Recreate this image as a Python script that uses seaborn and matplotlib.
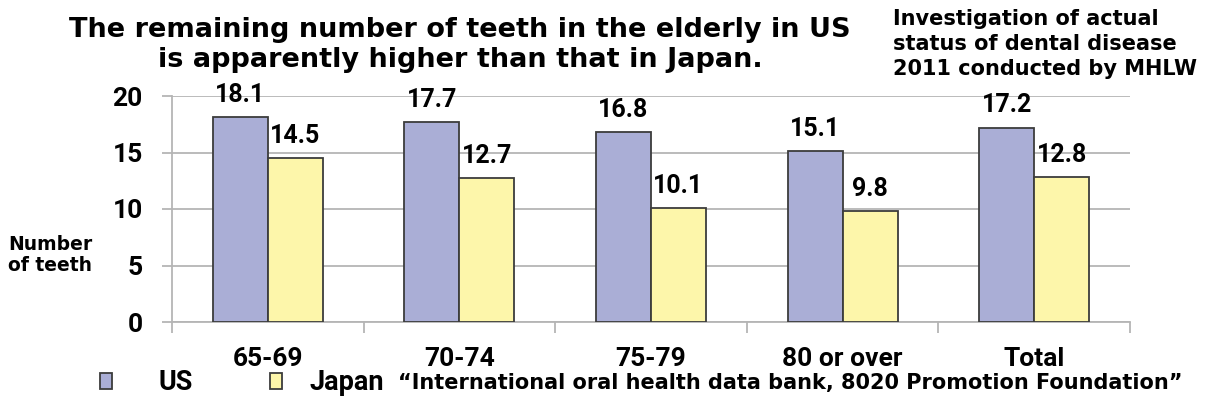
import matplotlib
matplotlib.use("Agg")
import matplotlib.pyplot as plt
import seaborn as sns
import pandas as pd
from matplotlib.ticker import FixedLocator, NullFormatter

categories = ["65-69", "70-74", "75-79", "80 or over", "Total"]
us_values = [18.1, 17.7, 16.8, 15.1, 17.2]
japan_values = [14.5, 12.7, 10.1, 9.8, 12.8]
series_names = ["US", "Japan"]
y_ticks = [0, 5, 10, 15, 20]

title_text = "The remaining number of teeth in the elderly in US\nis apparently higher than that in Japan."
note_text = "Investigation of actual\nstatus of dental disease\n2011 conducted by MHLW"
ylabel_text = "Number\nof teeth"
source_text = "\u201cInternational oral health data bank, 8020 Promotion Foundation\u201d"

colors = {"US": "#aaaed6", "Japan": "#fdf6aa"}

df = pd.DataFrame({
    "category": categories * 2,
    "value": us_values + japan_values,
    "country": [series_names[0]] * len(categories) + [series_names[1]] * len(categories),
})

sns.set_theme(style="white")
plt.rcParams["font.family"] = ["DejaVu Sans"]
plt.rcParams["text.color"] = "black"
plt.rcParams["xtick.labelcolor"] = "black"
plt.rcParams["ytick.labelcolor"] = "black"

NUM_FONT = "Roboto"

W, H = 1205, 412
fig = plt.figure(figsize=(W / 100, H / 100), dpi=100)
ax = fig.add_axes([172 / W, 1 - 322 / H, (1130 - 172) / W, (322 - 96) / H])

sns.barplot(data=df, x="category", y="value", hue="country", order=categories,
            hue_order=series_names, palette=colors, width=0.574, saturation=1,
            edgecolor="#3c3c3c", linewidth=1.3, ax=ax, legend=False, errorbar=None,
            zorder=3)

ax.set_ylim(0, 20)
ax.set_xlim(-0.5, len(categories) - 0.5)
ax.set_yticks(y_ticks)
ax.set_yticklabels([str(t) for t in y_ticks], fontfamily=NUM_FONT, fontweight="bold", fontsize=19)
ax.yaxis.grid(True, color="#b5b5b5", linewidth=1.3, zorder=0)
ax.set_axisbelow(True)
ax.tick_params(axis="y", length=7, width=1.3, color="#b5b5b5", pad=14, left=True)

# category boundaries as major ticks, labels at minor ticks
ax.xaxis.set_major_locator(FixedLocator([i - 0.5 for i in range(len(categories) + 1)]))
ax.xaxis.set_major_formatter(NullFormatter())
ax.xaxis.set_minor_locator(FixedLocator(list(range(len(categories)))))
ax.set_xticklabels(categories, minor=True, fontfamily=NUM_FONT, fontweight="bold", fontsize=19)
ax.tick_params(axis="x", which="major", length=8, width=1.3, color="#b5b5b5", bottom=True, direction="out")
ax.tick_params(axis="x", which="minor", length=0, pad=18)
ax.set_xlabel("")
ax.set_ylabel("")

for side in ["top", "right"]:
    ax.spines[side].set_visible(False)
for side in ["left", "bottom"]:
    ax.spines[side].set_color("#b5b5b5")
    ax.spines[side].set_linewidth(1.3)

# data labels
for cont in ax.containers:
    for rect in cont:
        h = rect.get_height()
        ax.annotate(f"{h:.1f}", (rect.get_x() + rect.get_width() / 2, h),
                    xytext=(0, 11), textcoords="offset points", ha="center", va="baseline",
                    fontfamily=NUM_FONT, fontweight="bold", fontsize=18, color="black",
                    annotation_clip=False)

fig.text(460 / W, 1 - 45 / H, title_text, ha="center", va="center", fontsize=19.5,
         fontweight="bold", linespacing=1.2)
fig.text(893 / W, 1 - 44 / H, note_text, ha="left", va="center", fontsize=15,
         fontweight="bold", linespacing=1.3)
fig.text(8 / W, 1 - 255 / H, ylabel_text, ha="left", va="center", fontsize=13.5,
         fontweight="bold", linespacing=1.15)

handles = [c[0] for c in ax.containers]
leg_props = {"family": NUM_FONT, "weight": "bold", "size": 19.5}
leg_us = fig.legend([handles[0]], [series_names[0]], loc="center left",
                    bbox_to_anchor=(100 / W, 1 - 383 / H), frameon=False, prop=leg_props,
                    handlelength=0.45, handleheight=0.55, handletextpad=1.7,
                    borderpad=0, borderaxespad=0)
leg_jp = fig.legend([handles[1]], [series_names[1]], loc="center left",
                    bbox_to_anchor=(270 / W, 1 - 383 / H), frameon=False, prop=leg_props,
                    handlelength=0.45, handleheight=0.55, handletextpad=1.0,
                    borderpad=0, borderaxespad=0)
fig.text(398 / W, 1 - 383 / H, source_text, ha="left", va="center", fontsize=15,
         fontweight="bold")

fig.savefig("out.png", dpi=100)
